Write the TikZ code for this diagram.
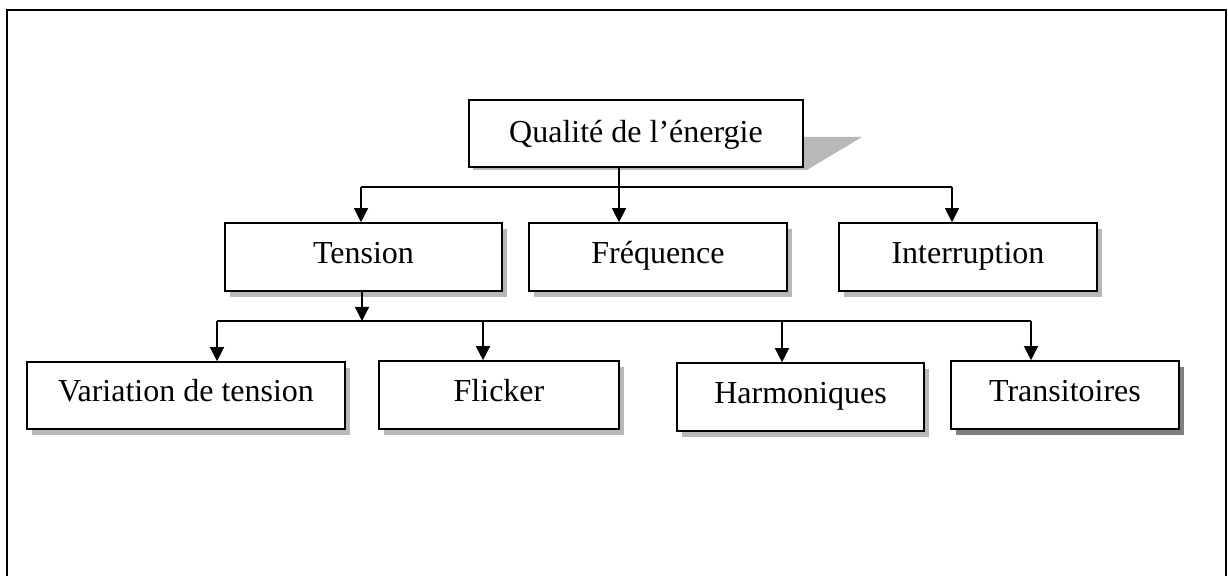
\documentclass[tikz,border=0pt]{standalone}
\usepackage{fontspec}
\setmainfont{Liberation Serif}
\usetikzlibrary{arrows.meta,shadows}
\begin{document}
\begin{tikzpicture}[x=0.5pt,y=-0.5pt,
  box/.style={draw, line width=0.8pt, fill=white, inner sep=0pt,
    minimum width=#1*0.5pt, minimum height=34pt,
    font=\fontsize{16pt}{19pt}\selectfont, text height=10.5pt, text depth=4pt},
  shad/.style={general shadow={fill=black!28, shadow xshift=2.6pt, shadow yshift=-3pt}},
  darkshad/.style={general shadow={fill=black!50, shadow xshift=2.6pt, shadow yshift=-3pt}},
  conn/.style={line width=0.65pt},
  arr/.style={conn, -{Triangle[length=7pt,width=7pt]}}]
\useasboundingbox (0,0) rectangle (1228,576);
% outer frame
\draw[line width=1.1pt] (7,577) -- (7,10) -- (1226,10) -- (1226,577);
% top box shadow
\fill[black!28] (803,137) -- (862,137) -- (807,170) -- (473,170) -- (473,167) -- (803,167) -- cycle;
\node[box=334, minimum height=33.5pt, text height=13pt, text depth=3.5pt] (q) at (636,133.5) {Qualité de l’énergie};
% level 2
\node[box=277, shad] (t) at (363.5,257) {Tension\hspace{8pt}};
\node[box=258, shad] (f) at (658,257) {Fréquence};
\node[box=258, shad] (i) at (968,257) {Interruption};
% level 3
\node[box=318, shad, minimum height=33.5pt] (v) at (186,395.5) {Variation de tension};
\node[box=240, shad] (fl) at (499,395) {Flicker};
\node[box=247, shad] (h) at (800.5,397) {Harmoniques};
\node[box=228, darkshad] (tr) at (1065,395) {Transitoires};
% connectors level 1 -> 2
\coordinate (a1) at (361,187);
\coordinate (a2) at (619,187);
\coordinate (a3) at (952,187);
\draw[conn] (a2 |- q.south) -- (a2);
\draw[conn] (a1) -- (a3);
\draw[arr] (a1) -- (a1 |- t.north);
\draw[arr] (a2) -- (a2 |- f.north);
\draw[arr] (a3) -- (a3 |- i.north);
% connectors level 2 -> 3
\coordinate (j) at (362,321);
\coordinate (b1) at (217,321);
\coordinate (b2) at (483,321);
\coordinate (b3) at (782,321);
\coordinate (b4) at (1031,321);
\draw[arr] (j |- t.south) -- (j);
\draw[conn] (b1) -- (b4);
\draw[arr] (b1) -- (b1 |- v.north);
\draw[arr] (b2) -- (b2 |- fl.north);
\draw[arr] (b3) -- (b3 |- h.north);
\draw[arr] (b4) -- (b4 |- tr.north);
\end{tikzpicture}
\end{document}
